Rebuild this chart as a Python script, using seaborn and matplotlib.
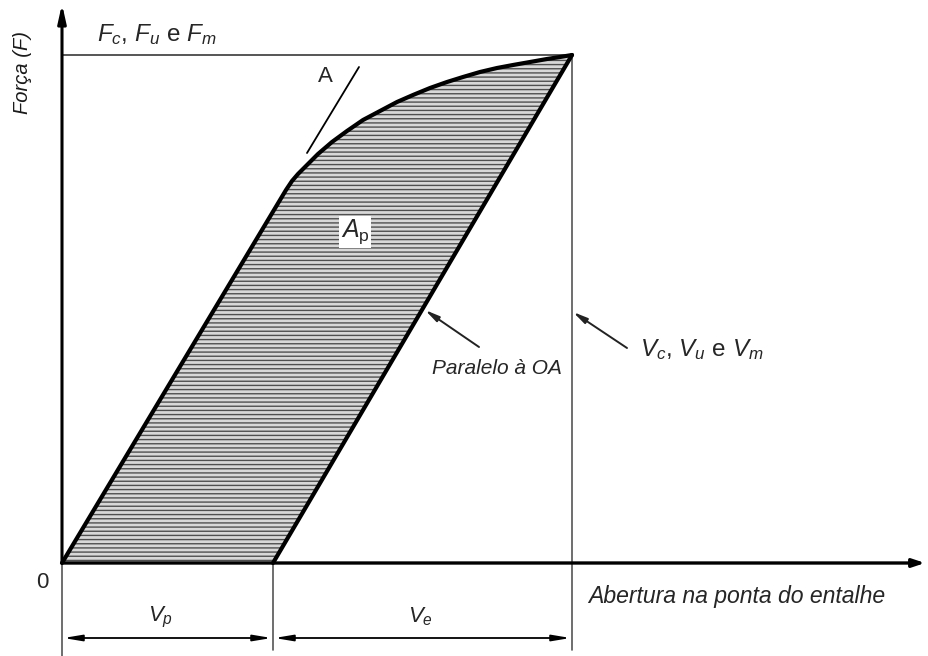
import matplotlib
matplotlib.use("Agg")
import matplotlib.pyplot as plt
import seaborn as sns
import pandas as pd

# Force vs. notch opening (units: arbitrary, origin at 0)
opening_load = [0.00, 2.24, 2.30, 2.36, 2.45, 2.56, 2.70, 2.85, 3.01, 3.18, 3.35,
                3.51, 3.68, 3.85, 4.01, 4.18, 4.35, 4.51, 4.68, 4.85, 4.98, 5.10]
force_load = [0.00, 3.73, 3.82, 3.89, 3.98, 4.09, 4.21, 4.32, 4.43, 4.52, 4.61,
              4.68, 4.75, 4.81, 4.86, 4.91, 4.95, 4.98, 5.01, 5.04, 5.06, 5.08]
opening_unload = [5.10, 2.11]
force_unload = [5.08, 0.00]
tangent_x = [2.45, 2.97]
tangent_y = [4.10, 4.96]
v_plastic = 2.11
v_max = 5.10
f_max = 5.08

sns.set_theme(style="white")
plt.rcParams["font.family"] = ["Liberation Sans", "DejaVu Sans"]
plt.rcParams["mathtext.fontset"] = "custom"
plt.rcParams["mathtext.rm"] = "Liberation Sans"
plt.rcParams["mathtext.it"] = "Liberation Sans:italic"
plt.rcParams["hatch.linewidth"] = 1.0

fig = plt.figure(figsize=(9.29, 6.56), dpi=100)
ax = fig.add_axes([0, 0, 1, 1])

# plastic area A_p
poly_x = opening_load + [v_plastic, 0.0]
poly_y = force_load + [0.0, 0.0]
ax.fill(poly_x, poly_y, facecolor="#d8d8d8", edgecolor="#505050", linewidth=0,
        hatch="----", zorder=1)

# reference lines
ax.plot([0, v_max], [f_max, f_max], color="#555555", lw=1.4, zorder=2)
ax.plot([v_max, v_max], [f_max, -0.87], color="#555555", lw=1.2, zorder=2)
ax.plot([v_plastic, v_plastic], [0, -0.87], color="#555555", lw=1.2, zorder=2)
ax.plot([0, 0], [0, -0.93], color="#555555", lw=1.2, zorder=2)

# curves
df_load = pd.DataFrame({"v": opening_load, "F": force_load})
df_unload = pd.DataFrame({"v": opening_unload, "F": force_unload})
sns.lineplot(data=df_load, x="v", y="F", sort=False, color="black", lw=3.0,
             ax=ax, zorder=4)
sns.lineplot(data=df_unload, x="v", y="F", sort=False, color="black", lw=3.0,
             ax=ax, zorder=4)
ax.plot(tangent_x, tangent_y, color="black", lw=1.3, zorder=4)
ax.set_xlim(-0.62, 8.67)
ax.set_ylim(-0.93, 5.63)
ax.axis("off")

# axes with arrows
ax.annotate("", xy=(8.63, 0), xytext=(0, 0),
            arrowprops=dict(arrowstyle="-|>,head_length=0.6,head_width=0.2",
                            color="black", lw=2.4, shrinkA=0, shrinkB=0), zorder=5)
ax.annotate("", xy=(0, 5.59), xytext=(0, 0),
            arrowprops=dict(arrowstyle="-|>,head_length=0.9,head_width=0.2",
                            color="black", lw=2.2, shrinkA=0, shrinkB=0), zorder=5)

# dimension arrows
dim_y = -0.75
dim_style = dict(arrowstyle="<|-|>,head_length=0.9,head_width=0.15",
                 color="black", lw=1.3, shrinkA=1, shrinkB=1)
ax.annotate("", xy=(0, dim_y), xytext=(v_plastic, dim_y), arrowprops=dim_style)
ax.annotate("", xy=(v_plastic, dim_y), xytext=(v_max, dim_y), arrowprops=dim_style)

# leader arrows
lead = dict(arrowstyle="-|>,head_length=0.7,head_width=0.15", color="#222222",
            lw=1.4, shrinkA=0, shrinkB=0)
ax.annotate("", xy=(3.63, 2.53), xytext=(4.17, 2.16), arrowprops=lead)
ax.annotate("", xy=(5.11, 2.51), xytext=(5.65, 2.15), arrowprops=lead)

# labels
ax.text(0.35, 5.28, r"$F_c$, $F_u$ e $F_m$", fontsize=17.5, ha="left", va="center")
ax.text(-0.40, 4.90, "Força (F)", fontsize=14.5, style="italic", rotation=90,
        ha="center", va="center", color="#1a1a1a")
ax.text(-0.20, -0.19, "0", fontsize=16, ha="center", va="center")
ax.text(2.63, 4.86, "A", fontsize=16, ha="center", va="center")
ax.text(2.93, 3.31, r"$A_{\mathrm{p}}$", fontsize=18, ha="center", va="center",
        bbox=dict(facecolor="white", edgecolor="none", pad=1.5), zorder=6)
ax.text(3.70, 1.95, "Paralelo à OA", fontsize=15, style="italic",
        ha="left", va="center")
ax.text(5.78, 2.13, r"$V_c$, $V_u$ e $V_m$", fontsize=17.5, ha="left", va="center")
ax.text(5.26, -0.34, "Abertura na ponta do entalhe", fontsize=16.6,
        style="italic", ha="left", va="center")
ax.text(0.98, -0.54, r"$V_p$", fontsize=16, ha="center", va="center")
ax.text(3.58, -0.54, r"$V_e$", fontsize=16, ha="center", va="center")

fig.savefig("out.png", dpi=100)
